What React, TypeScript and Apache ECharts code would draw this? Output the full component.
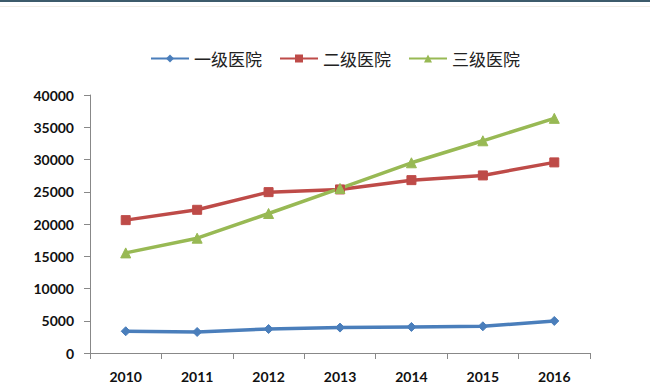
import React, { useEffect, useRef } from "react";
import * as echarts from "echarts";

const years = ["2010", "2011", "2012", "2013", "2014", "2015", "2016"];
const level1 = [3370, 3260, 3720, 3940, 4040, 4140, 4970];
const level2 = [20600, 22200, 24940, 25360, 26800, 27530, 29550];
const level3 = [15520, 17800, 21630, 25510, 29490, 32900, 36380];
const seriesNames = ["一级医院", "二级医院", "三级医院"];
const colors = ["#4a7ebb", "#be4b48", "#98b954"];
const symbols = ["diamond", "rect", "triangle"];

export default function App() {
  const ref = useRef<HTMLDivElement>(null);
  useEffect(() => {
    const chart = echarts.init(ref.current!, null, { renderer: "svg" });
    const data = [level1, level2, level3];
    chart.setOption({
      animation: false,
      backgroundColor: "#ffffff",
      textStyle: { fontFamily: "Lato, 'Noto Sans CJK SC', sans-serif" },
      graphic: [
        { type: "rect", shape: { x: 0, y: 0, width: 650, height: 2 }, style: { fill: "#3d5b6b" } },
        { type: "rect", shape: { x: 0, y: 6, width: 650, height: 1 }, style: { fill: "#f3f0e8" } },
      ],
      legend: {
        top: 50,
        left: 150,
        padding: 0,
        itemWidth: 38,
        itemHeight: 10,
        itemGap: 17,
        textStyle: { fontSize: 17, color: "#222", fontFamily: "'Noto Sans CJK SC', sans-serif" },
        data: seriesNames,
      },
      grid: { left: 90, right: 60, top: 95, bottom: 39, containLabel: false },
      xAxis: {
        type: "category",
        data: years,
        boundaryGap: true,
        axisLine: { lineStyle: { color: "#888", width: 1 } },
        axisTick: { show: true, alignWithLabel: false, length: 6, lineStyle: { color: "#888" } },
        axisLabel: { color: "#111", fontSize: 14, margin: 16, fontWeight: "bold", fontFamily: "Lato, sans-serif" },
        splitLine: { show: false },
      },
      yAxis: {
        type: "value",
        min: 0,
        max: 40000,
        interval: 5000,
        axisLine: { show: true, lineStyle: { color: "#888", width: 1 } },
        axisTick: { show: true, inside: false, length: 6, lineStyle: { color: "#888" } },
        axisLabel: {
          color: "#111",
          fontSize: 14,
          margin: 16,
          fontWeight: "bold",
          fontFamily: "Lato, sans-serif",
          formatter: (v: number) => String(v),
        },
        splitLine: { show: false },
      },
      series: data.map((d, i) => ({
        name: seriesNames[i],
        type: "line",
        data: d,
        symbol: symbols[i],
        symbolSize: i === 2 ? 10 : 9,
        showAllSymbol: true,
        lineStyle: { color: colors[i], width: 3.5 },
        itemStyle: { color: colors[i], borderColor: colors[i] },
      })),
    });
    return () => chart.dispose();
  }, []);
  return (
    <div
      ref={ref}
      style={{ position: "absolute", left: 0, top: 0, width: 650, height: 392 }}
    />
  );
}
